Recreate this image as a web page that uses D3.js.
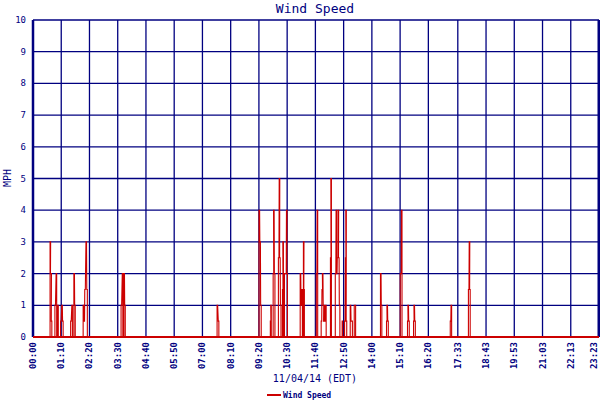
<!DOCTYPE html><html><head><meta charset="utf-8">
<script src="https://cdn.jsdelivr.net/npm/d3@7"></script>
<style>body{margin:0;background:#fff}text{font-family:"DejaVu Sans Mono",monospace;fill:#000080}</style></head><body>
<svg id="c" width="600" height="400"></svg>
<script>
const title = "Wind Speed";
const xAxisTitle = "11/04/14 (EDT)";
const yAxisTitle = "MPH";
const yTicks = [0,1,2,3,4,5,6,7,8,9,10];
const xTickLabels = ["00:00","01:10","02:20","03:30","04:40","05:50","07:00","08:10","09:20","10:30","11:40","12:50","14:00","15:10","16:20","17:33","18:43","19:53","21:03","22:13","23:23"];
// minutes since midnight
const sampleMinutes = [43,44,45,46, 55,58,62,69,72,74, 94,97,102,104, 125,127,129,132,134, 219,222,226,228, 457,460,
 561,563,565, 589,590,596,597,599,609,611,612,614,619,620,624,627,629,630,
 663,665,667,671,672, 703,705,715,717,718,720,721,723,724,726,
 738,739,750,752,753,755,757,758,760,767,773,775,776,777,787,789,791,797,799,
 862,864, 877,878,880, 911,912,914, 929,930,932, 944,945,947, 1035,1037, 1080,1082,1083];
const sampleMph = [3,2,2,0.5, 1,2,1,0.5,1,0.5, 0.5,1,2,1, 1,0.5,1.5,3,1.5, 1,2,2,1, 1,0.5,
 4,3,1, 0.5,1,2,4,2,2.5,5,2.5,1,1.5,3,2,2,4,2,
 2,1,1.5,3,1.5, 2,4,0.5,1.5,2,1,0.5,1,0.5,1,
 2.5,5,2,4,2,2.5,4,2.5,1,0.5,0.5,2.5,4,0.5,1,0.5,0.5,1,1,
 2,1, 0.5,1,0.5, 2,2,4, 0.5,1,0.5, 0.5,1,0.5, 0.5,1, 1.5,3,1.5];
const tickMinutes = xTickLabels.map(s=>{const [h,m]=s.split(":");return +h*60+ +m;});

const svg=d3.select("#c");
const L=33,R=599,T=20,B=337;
const x=d3.scaleLinear().domain([0,tickMinutes[tickMinutes.length-1]]).range([L,R]);
const y=d3.scaleLinear().domain([0,10]).range([B,T]);
const navy="#000080", red="#cc0000";

svg.append("g").selectAll("line").data(yTicks).join("line")
 .attr("x1",L).attr("x2",R).attr("y1",d=>y(d)).attr("y2",d=>y(d)).attr("stroke",navy).attr("stroke-width",1.3);
svg.append("g").selectAll("line").data(tickMinutes).join("line")
 .attr("x1",d=>x(d)).attr("x2",d=>x(d)).attr("y1",T).attr("y2",B).attr("stroke",navy).attr("stroke-width",1.3);
svg.append("line").attr("x1",L).attr("x2",L).attr("y1",T).attr("y2",B).attr("stroke",navy).attr("stroke-width",2.5);
svg.append("line").attr("x1",R).attr("x2",R).attr("y1",T).attr("y2",B).attr("stroke",navy).attr("stroke-width",3);

svg.append("g").selectAll("text").data(yTicks).join("text")
 .attr("x",26).attr("y",d=>y(d)+3).attr("text-anchor","end").attr("font-size",9).text(d=>d);
svg.append("g").selectAll("text").data(xTickLabels).join("text")
 .attr("transform",(d,i)=>`translate(${Math.min(x(tickMinutes[i])+3,597)},342) rotate(-90)`)
 .attr("text-anchor","end").attr("font-size",9).attr("font-weight","bold").text(d=>d);

const pts=[];
sampleMinutes.forEach((t,i)=>{
  const prev=sampleMinutes[i-1], next=sampleMinutes[i+1];
  if(prev===undefined||t-prev>3) pts.push([t-0.7,0]);
  pts.push([t-0.7,sampleMph[i]]);
  pts.push([t+0.7,sampleMph[i]]);
  if(next===undefined||next-t>3) pts.push([t+0.7,0]);
});
const full=[[0,0],...pts,[tickMinutes[tickMinutes.length-1],0]];
svg.append("path").attr("d",d3.line().x(d=>x(d[0])).y(d=>y(d[1]))(full))
 .attr("fill","none").attr("stroke",red).attr("stroke-width",1.1);
svg.append("line").attr("x1",L).attr("x2",R).attr("y1",B).attr("y2",B).attr("stroke",red).attr("stroke-width",2);

svg.append("text").attr("x",315).attr("y",13).attr("text-anchor","middle").attr("font-size",13).text(title);
svg.append("text").attr("transform","translate(11,178) rotate(-90)").attr("text-anchor","middle").attr("font-size",10).text(yAxisTitle);
svg.append("text").attr("x",315).attr("y",382).attr("text-anchor","middle").attr("font-size",10).text(xAxisTitle);
svg.append("line").attr("x1",267).attr("x2",281).attr("y1",395).attr("y2",395).attr("stroke",red).attr("stroke-width",2);
svg.append("text").attr("x",283).attr("y",398).attr("font-size",8).attr("font-weight","bold").text(title);
</script></body></html>
